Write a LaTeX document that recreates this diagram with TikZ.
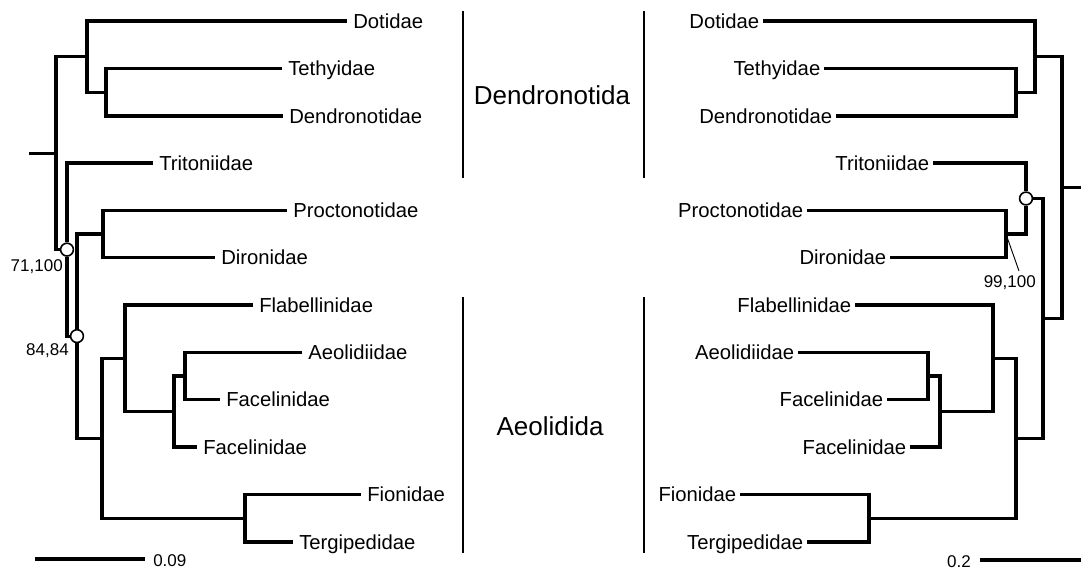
\documentclass[tikz,border=0pt]{standalone}
\usepackage{fontspec}
\setmainfont{Liberation Sans}

\begin{document}
\begin{tikzpicture}[x=0.75pt,y=-0.75pt,
    branch/.style={line width=2.3pt},
    groupbar/.style={line width=1.2pt},
    leader/.style={line width=0.7pt},
    leafL/.style={anchor=west,inner xsep=4.5pt,inner ysep=0pt,text height=10.9pt,text depth=0pt,font=\fontsize{15.2}{18}\selectfont},
    leafR/.style={leafL,anchor=east,inner xsep=2.6pt},
    support/.style={circle,draw,fill=white,line width=1.2pt,inner sep=0pt,minimum size=9.6pt},
    small/.style={inner sep=0pt,font=\fontsize{12.75}{15}\selectfont},
    group/.style={inner sep=0pt,font=\fontsize{19.5}{23}\selectfont}]

    % fix the page size
    \useasboundingbox (0,0) rectangle (1081,569);

    % ----- left tree -----
    \foreach \name/\txt/\x/\y in {ldot/Dotidae/347/21, ltet/Tethyidae/282/68.5,
        lden/Dendronotidae/283/116, ltri/Tritoniidae/153/163,
        lpro/Proctonotidae/287/210.5, ldir/Dironidae/215/257.5,
        lfla/Flabellinidae/253/305, laeo/Aeolidiidae/302/352.5,
        lfaa/Facelinidae/220/399.5, lfab/Facelinidae/197/447,
        lfio/Fionidae/361/494.5, lter/Tergipedidae/293/542}
        \node[leafL] (\name) at (\x,\y) {\txt};

    % inner nodes
    \coordinate (la) at (87,56.6);
    \coordinate (lb) at (106,92.3);
    \coordinate (lroot) at (56,153.1);
    \coordinate (lstub) at (29,153.1);
    \coordinate (ld) at (103,234);
    \coordinate (le) at (102,438.3);
    \coordinate (lf) at (125,358.3);
    \coordinate (lg) at (174,411.5);
    \coordinate (lh) at (185,376);
    \coordinate (li) at (245,518.3);
    \node[support] (lc1) at (67,249.6) {};
    \node[support] (lc2) at (77,336.1) {};

    % branches
    \draw[branch] (ltet.west) -| (lb) |- (lden.west);
    \draw[branch] (ldot.west) -| (la) |- (lb);
    \draw[branch] (lpro.west) -| (ld) |- (ldir.west);
    \draw[branch] (laeo.west) -| (lh) |- (lfaa.west);
    \draw[branch] (lh) -| (lg) |- (lfab.west);
    \draw[branch] (lfla.west) -| (lf) |- (lg);
    \draw[branch] (lfio.west) -| (li) |- (lter.west);
    \draw[branch] (lf) -| (le) |- (li);
    \draw[branch] (ld) -| (lc2) |- (le);
    \draw[branch] (ltri.west) -| (lc1) |- (lc2);
    \draw[branch] (la) -| (lroot) |- (lc1);
    \draw[branch] (lstub) -- (lroot);

    % support values
    \node[small,anchor=base east] (s71) at (63,271) {71,100};
    \node[small,anchor=base east] (s84) at (69,355) {84,84};

    % scale bar
    \draw[branch] (35,559) -- (145,559);
    \node[small,anchor=base west] (sc09) at (153,566) {0.09};

    % ----- groups -----
    \draw[groupbar] (463,11) -- (463,178);
    \draw[groupbar] (463,297) -- (463,553);
    \draw[groupbar] (644,11) -- (644,178);
    \draw[groupbar] (644,297) -- (644,553);
    \node[group] (dendro) at (552,95) {Dendronotida};
    \node[group] (aeolid) at (550,426) {Aeolidida};

    % ----- right tree -----
    \foreach \name/\txt/\x/\y in {rdot/Dotidae/763/21, rtet/Tethyidae/824/68.5,
        rden/Dendronotidae/836/116, rtri/Tritoniidae/933/163,
        rpro/Proctonotidae/807/210.5, rdir/Dironidae/890/257.5,
        rfla/Flabellinidae/855/305, raeo/Aeolidiidae/798/352.5,
        rfaa/Facelinidae/887/399.5, rfab/Facelinidae/910/447,
        rfio/Fionidae/740/494.5, rter/Tergipedidae/807/542}
        \node[leafR] (\name) at (\x,\y) {\txt};

    % inner nodes
    \coordinate (ra) at (1035,56.6);
    \coordinate (rb) at (1016,92.3);
    \coordinate (rd) at (1006,234);
    \coordinate (re) at (1016,438.3);
    \coordinate (rf) at (993,358.3);
    \coordinate (rg) at (940,411.5);
    \coordinate (rh) at (928,376);
    \coordinate (ri) at (869,518.3);
    \coordinate (r2) at (1043,318.4);
    \coordinate (rroot) at (1062,187.5);
    \coordinate (rstub) at (1081,187.5);
    \node[support] (rc) at (1026,198.5) {};

    % branches
    \draw[branch] (rtet.east) -| (rb) |- (rden.east);
    \draw[branch] (rdot.east) -| (ra) |- (rb);
    \draw[branch] (rpro.east) -| (rd) |- (rdir.east);
    \draw[branch] (rtri.east) -| (rc) |- (rd);
    \draw[branch] (raeo.east) -| (rh) |- (rfaa.east);
    \draw[branch] (rh) -| (rg) |- (rfab.east);
    \draw[branch] (rfla.east) -| (rf) |- (rg);
    \draw[branch] (rfio.east) -| (ri) |- (rter.east);
    \draw[branch] (rf) -| (re) |- (ri);
    \draw[branch] (rc) -| (r2) |- (re);
    \draw[branch] (ra) -| (rroot) |- (r2);
    \draw[branch] (rroot) -- (rstub);

    % support value with leader
    \node[small,anchor=base east] (s99) at (1036,287) {99,100};
    \coordinate (ldr) at (1007,237);
    \coordinate (ldrend) at (1019,271);
    \draw[leader] (ldr) -- (ldrend);

    % scale bar
    \draw[branch] (980,560) -- (1081,560);
    \node[small,anchor=base east] (sc02) at (971,567) {0.2};

\end{tikzpicture}
\end{document}
